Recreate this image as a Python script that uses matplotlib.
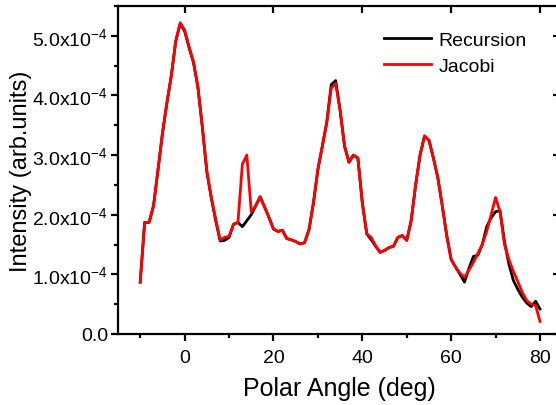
import numpy as np
import matplotlib
matplotlib.use("Agg")
import matplotlib.pyplot as plt
from matplotlib.ticker import MultipleLocator, FixedLocator, FuncFormatter

plt.rcParams["font.family"] = ["Liberation Sans", "DejaVu Sans"]
plt.rcParams["mathtext.fontset"] = "custom"
plt.rcParams["mathtext.rm"] = "Liberation Sans"
plt.rcParams["mathtext.it"] = "Liberation Sans"

# polar angle (deg)
angle = list(range(-10, 81))

# intensity, in units of 1e-4
recursion = [0.87, 1.87, 1.87, 2.15, 2.75, 3.36, 3.87, 4.33, 4.91, 5.20,
             5.08, 4.80, 4.55, 4.13, 3.46, 2.72, 2.28, 1.90, 1.56, 1.57,
             1.62, 1.84, 1.87, 1.80, 1.90, 2.00, 2.15, 2.30, 2.13, 1.95,
             1.76, 1.72, 1.74, 1.60, 1.58, 1.55, 1.51, 1.53, 1.75, 2.20,
             2.76, 3.15, 3.55, 4.18, 4.25, 3.75, 3.15, 2.88, 3.00, 2.95,
             2.20, 1.68, 1.58, 1.47, 1.37, 1.40, 1.45, 1.47, 1.62, 1.65,
             1.57, 1.90, 2.50, 3.00, 3.32, 3.25, 2.95, 2.62, 2.15, 1.65,
             1.25, 1.12, 1.00, 0.87, 1.10, 1.30, 1.32, 1.50, 1.80, 1.95,
             2.05, 2.07, 1.55, 1.17, 0.90, 0.75, 0.62, 0.52, 0.46, 0.55,
             0.42]

jacobi = [0.87, 1.87, 1.87, 2.15, 2.75, 3.36, 3.87, 4.33, 4.91, 5.22,
          5.10, 4.82, 4.56, 4.14, 3.47, 2.73, 2.30, 1.92, 1.58, 1.62,
          1.64, 1.84, 1.87, 2.85, 3.00, 2.05, 2.15, 2.30, 2.13, 1.95,
          1.76, 1.72, 1.74, 1.60, 1.58, 1.55, 1.51, 1.53, 1.75, 2.20,
          2.76, 3.15, 3.55, 4.12, 4.20, 3.75, 3.15, 2.88, 3.00, 2.95,
          2.20, 1.68, 1.62, 1.48, 1.37, 1.40, 1.45, 1.47, 1.62, 1.65,
          1.57, 1.90, 2.50, 3.00, 3.32, 3.25, 2.95, 2.62, 2.15, 1.65,
          1.25, 1.12, 1.02, 0.95, 1.07, 1.20, 1.35, 1.50, 1.72, 2.00,
          2.29, 2.05, 1.50, 1.25, 1.05, 0.88, 0.70, 0.56, 0.50, 0.48,
          0.21]

y_ticks = [0, 1e-4, 2e-4, 3e-4, 4e-4, 5e-4]


def sci_label(v, pos):
    if v == 0:
        return "0.0"
    return "%.1fx10$^{-4}$" % (v / 1e-4)


fig = plt.figure(figsize=(5.56, 4.06), dpi=100)
ax = fig.add_axes([118 / 556, 71 / 406, 442 / 556, 328 / 406])

ax.plot(angle, np.array(recursion) * 1e-4, color="black", lw=2, label="Recursion")
ax.plot(angle, np.array(jacobi) * 1e-4, color="red", lw=2, label="Jacobi")

ax.set_xlim(-15, 84.5)
ax.set_ylim(0, 5.5e-4)

ax.xaxis.set_major_locator(FixedLocator([0, 20, 40, 60, 80]))
ax.xaxis.set_minor_locator(MultipleLocator(10))
ax.yaxis.set_major_locator(FixedLocator(y_ticks))
ax.yaxis.set_minor_locator(MultipleLocator(0.5e-4))
ax.yaxis.set_major_formatter(FuncFormatter(sci_label))

for s in ax.spines.values():
    s.set_linewidth(1.6)

ax.tick_params(which="both", direction="out", width=1.6, labelsize=14,
               top=True, right=True)
ax.tick_params(which="major", length=5)
ax.tick_params(which="minor", length=3, top=False, right=False)
ax.tick_params(axis="x", which="major", pad=6)
ax.tick_params(axis="y", which="major", pad=2)
# top and right ticks point into the plot
for t in ax.xaxis.get_major_ticks():
    t.tick2line.set_marker(3)
for t in ax.yaxis.get_major_ticks():
    t.tick2line.set_marker(0)

ax.set_xlabel("Polar Angle (deg)", fontsize=18, labelpad=7)
ax.set_ylabel("Intensity (arb.units)", fontsize=17, labelpad=0)

ax.legend(loc="upper left", bbox_to_anchor=(384 / 556, 1 - 32 / 406),
          bbox_transform=fig.transFigure, frameon=False, fontsize=14,
          handlelength=2.4, handletextpad=0.4, labelspacing=0.45,
          borderpad=0, borderaxespad=0)

fig.savefig("out.png", dpi=100)
